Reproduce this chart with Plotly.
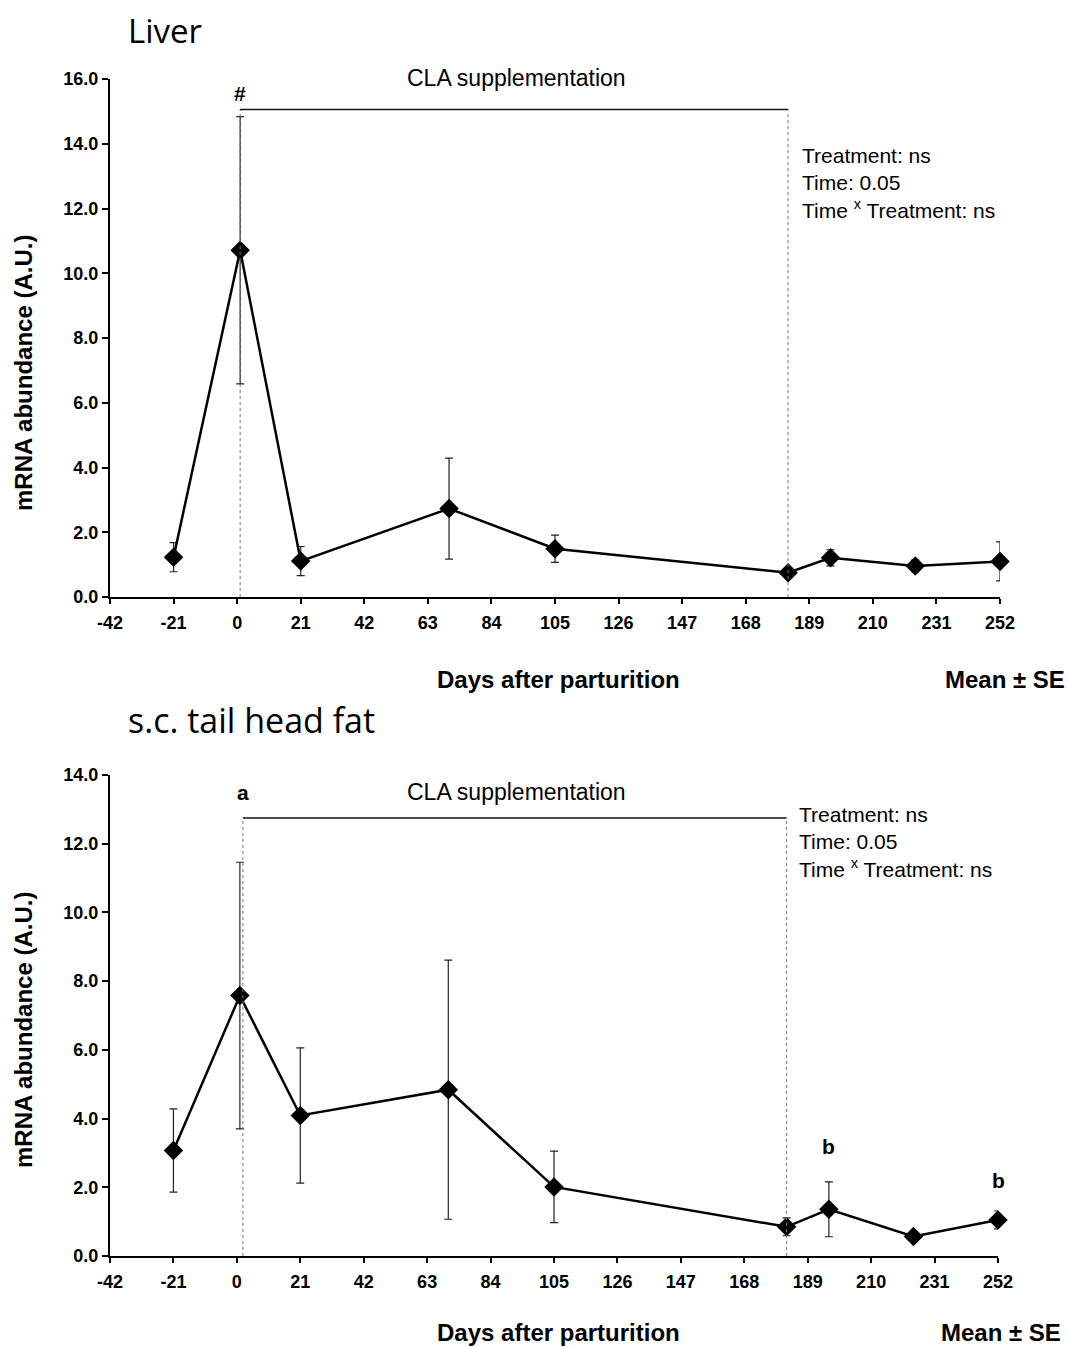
import plotly.graph_objects as go

W, H = 1068, 1347

# ---------------- data ----------------
days = [-21, 1, 21, 70, 105, 182, 196, 224, 252]

liver_mean = [1.23, 10.71, 1.11, 2.73, 1.49, 0.75, 1.21, 0.96, 1.10]
liver_se = [0.45, 4.13, 0.45, 1.56, 0.42, 0.10, 0.25, 0.18, 0.60]

fat_mean = [3.07, 7.58, 4.09, 4.84, 2.01, 0.85, 1.36, 0.57, 1.05]
fat_se = [1.21, 3.88, 1.97, 3.77, 1.04, 0.26, 0.80, 0.06, 0.26]

x_ticks = [-42, -21, 0, 21, 42, 63, 84, 105, 126, 147, 168, 189, 210, 231, 252]
liver_yticks = [0, 2, 4, 6, 8, 10, 12, 14, 16]
fat_yticks = [0, 2, 4, 6, 8, 10, 12, 14]

cla_start_liver, cla_start_fat, cla_end = 1, 2, 182
bracket_liver, bracket_fat = 15.06, 12.75

stats_text = "Treatment: ns<br>Time: 0.05<br>Time <sup>x</sup> Treatment: ns"


def px_x(p):
    return p / W


def px_y(p):
    return 1 - p / H


fig = go.Figure()

for mean, se, xa, ya in [(liver_mean, liver_se, "x", "y"), (fat_mean, fat_se, "x2", "y2")]:
    fig.add_trace(go.Scatter(
        x=days, y=mean, mode="lines+markers", xaxis=xa, yaxis=ya,
        line=dict(color="black", width=2.5),
        marker=dict(symbol="diamond", size=15, color="black"),
        error_y=dict(type="data", array=se, visible=True, color="#222",
                     thickness=1.2, width=4),
        showlegend=False, cliponaxis=False,
    ))

axis_font = dict(family="Liberation Sans, Arial", size=18, color="black", weight="bold")
common_x = dict(range=[-42, 252], tickvals=x_ticks, ticktext=[str(t) for t in x_ticks],
                showline=True, linecolor="black", linewidth=2, ticks="outside",
                ticklen=5, tickwidth=1.5, tickcolor="black", showgrid=False,
                zeroline=False, tickfont=axis_font, ticklabelstandoff=3,
                automargin=False)
common_y = dict(showline=True, linecolor="black", linewidth=2, ticks="outside",
                ticklen=6, tickwidth=1.5, tickcolor="black", showgrid=False,
                zeroline=False, tickfont=axis_font, tickformat=".1f",
                automargin=False)

fig.update_layout(
    width=W, height=H, margin=dict(l=0, r=0, t=0, b=0, pad=0, autoexpand=False),
    plot_bgcolor="white", paper_bgcolor="white",
    font=dict(family="Liberation Sans, Arial", color="black"),
    xaxis=dict(domain=[px_x(110), px_x(1000)], anchor="y", **common_x),
    yaxis=dict(domain=[px_y(597), px_y(79)], anchor="x", range=[0, 16],
               tickvals=liver_yticks, **common_y),
    xaxis2=dict(domain=[px_x(110), px_x(998)], anchor="y2", **common_x),
    yaxis2=dict(domain=[px_y(1256), px_y(775)], anchor="x2", range=[0, 14],
                tickvals=fat_yticks, **common_y),
)

shapes = []
for xr, yr, start, level in [("x", "y", cla_start_liver, bracket_liver),
                             ("x2", "y2", cla_start_fat, bracket_fat)]:
    shapes.append(dict(type="line", xref=xr, yref=yr, x0=start, x1=start, y0=0, y1=level,
                       line=dict(color="#777", width=1, dash="dot")))
    shapes.append(dict(type="line", xref=xr, yref=yr, x0=cla_end, x1=cla_end, y0=0, y1=level,
                       line=dict(color="#777", width=1, dash="dot")))
    shapes.append(dict(type="line", xref=xr, yref=yr, x0=start, x1=cla_end, y0=level, y1=level,
                       line=dict(color="#111", width=1.4)))
fig.update_layout(shapes=shapes)

bold_title = dict(family="Liberation Sans, Arial", size=24, color="black")
ann = []
# panel titles
ann.append(dict(text="Liver", xref="paper", yref="paper", x=px_x(126), y=px_y(30),
                xanchor="left", yanchor="middle", showarrow=False,
                font=dict(family="Open Sans", size=33, color="black")))
ann.append(dict(text="s.c. tail head fat", xref="paper", yref="paper", x=px_x(126), y=px_y(720),
                xanchor="left", yanchor="middle", showarrow=False,
                font=dict(family="Open Sans", size=34, color="black")))
# axis titles
for yc in [373, 1030]:
    ann.append(dict(text="<b>mRNA abundance (A.U.)</b>", xref="paper", yref="paper",
                    x=px_x(23), y=px_y(yc), textangle=-90, showarrow=False,
                    xanchor="center", yanchor="middle", font=bold_title))
for yc, xm in [(679, 1005), (1332, 1001)]:
    ann.append(dict(text="<b>Days after parturition</b>", xref="paper", yref="paper",
                    x=px_x(558), y=px_y(yc), showarrow=False, xanchor="center",
                    yanchor="middle", font=bold_title))
    ann.append(dict(text="<b>Mean ± SE</b>", xref="paper", yref="paper",
                    x=px_x(xm), y=px_y(yc), showarrow=False, xanchor="center",
                    yanchor="middle", font=bold_title))
# CLA labels
cla_font = dict(family="Liberation Sans, Arial", size=23, color="black")
txt_font = dict(family="Liberation Sans, Arial", size=21, color="black")
ann.append(dict(text="CLA supplementation", xref="paper", yref="paper", x=px_x(516), y=px_y(78),
                showarrow=False, xanchor="center", yanchor="middle", font=cla_font))
ann.append(dict(text="CLA supplementation", xref="paper", yref="paper", x=px_x(516), y=px_y(792),
                showarrow=False, xanchor="center", yanchor="middle", font=cla_font))
# stats blocks
ann.append(dict(text=stats_text, xref="paper", yref="paper", x=px_x(800), y=px_y(183),
                showarrow=False, xanchor="left", yanchor="middle", align="left", font=txt_font))
ann.append(dict(text=stats_text, xref="paper", yref="paper", x=px_x(797), y=px_y(842),
                showarrow=False, xanchor="left", yanchor="middle", align="left", font=txt_font))
# significance marks
sig_font = dict(family="Liberation Sans, Arial", size=21, color="black")
ann.append(dict(text="<b>#</b>", xref="x", yref="y", x=cla_start_liver, y=15.55,
                showarrow=False, font=sig_font))
ann.append(dict(text="<b>a</b>", xref="x2", yref="y2", x=cla_start_fat, y=13.5,
                showarrow=False, font=sig_font))
ann.append(dict(text="<b>b</b>", xref="x2", yref="y2", x=196, y=3.2,
                showarrow=False, font=sig_font))
ann.append(dict(text="<b>b</b>", xref="x2", yref="y2", x=252, y=2.2,
                showarrow=False, font=sig_font))
fig.update_layout(annotations=ann)

fig.write_html("out.html")
